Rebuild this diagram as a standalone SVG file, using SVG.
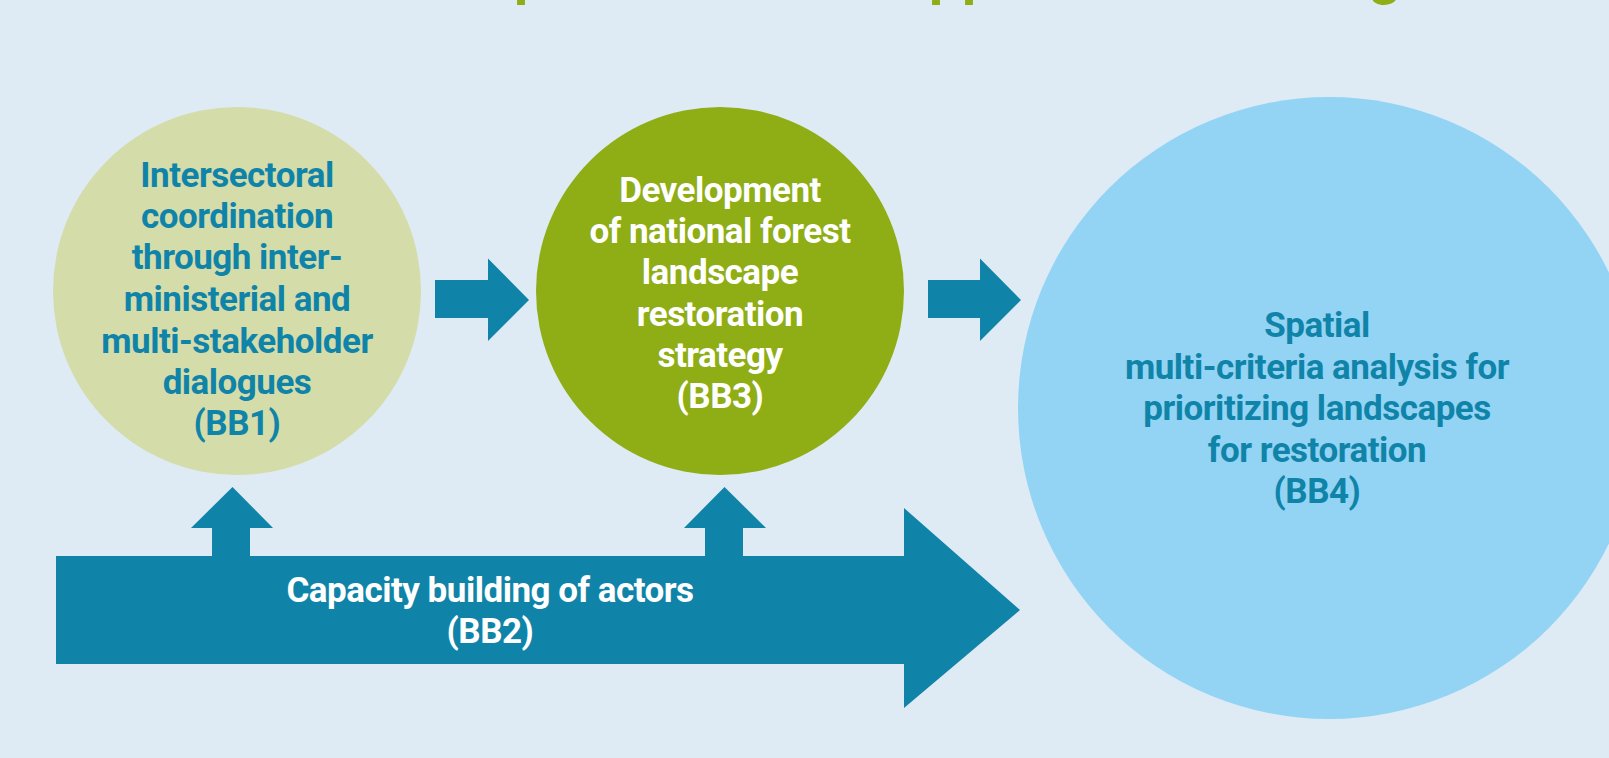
<svg xmlns="http://www.w3.org/2000/svg" width="1609" height="758" viewBox="0 0 1609 758">
<style>
.t{font-family:Roboto,"Liberation Sans",sans-serif;font-weight:700;font-size:35px;letter-spacing:-0.5px;text-anchor:middle}
.teal{fill:#1084a8}
.white{fill:#ffffff}
.arrow{fill:#1084a8}
.title{font-family:Roboto,"Liberation Sans",sans-serif;font-weight:700;font-size:56px;fill:#8fad15}
</style>
<rect width="1609" height="758" fill="#deebf4"/>
<g id="title-fragment">
<text class="title" x="514" y="-6">p</text>
<text class="title" x="929" y="-6">p</text>
<text class="title" x="962" y="-6">p</text>
<text class="title" x="1369" y="-6">g</text>
</g>
<g id="connectors">
<path class="arrow" d="M435,280 H488 V258.5 L529,300 L488,341 V318 H435 Z"/>
<path class="arrow" d="M928,280 H980 V258.5 L1021,300 L980,341 V318 H928 Z"/>
</g>
<g id="bb1">
<circle cx="237" cy="291" r="184" fill="#d4ddaa"/>
<text class="t teal" x="237" y="187">Intersectoral</text>
<text class="t teal" x="237" y="228">coordination</text>
<text class="t teal" x="237" y="269">through inter-</text>
<text class="t teal" x="237" y="311">ministerial and</text>
<text class="t teal" x="237" y="353">multi-stakeholder</text>
<text class="t teal" x="237" y="394">dialogues</text>
<text class="t teal" x="237" y="435">(BB1)</text>
</g>
<g id="bb3">
<circle cx="720" cy="291" r="184" fill="#8fad15"/>
<text class="t white" x="720" y="202">Development</text>
<text class="t white" x="720" y="243">of national forest</text>
<text class="t white" x="720" y="284">landscape</text>
<text class="t white" x="720" y="326">restoration</text>
<text class="t white" x="720" y="367">strategy</text>
<text class="t white" x="720" y="408">(BB3)</text>
</g>
<g id="bb4">
<circle cx="1329" cy="408" r="311" fill="#93d4f5"/>
<text class="t teal" x="1317" y="337">Spatial</text>
<text class="t teal" x="1317" y="379">multi-criteria analysis for</text>
<text class="t teal" x="1317" y="420">prioritizing landscapes</text>
<text class="t teal" x="1317" y="462">for restoration</text>
<text class="t teal" x="1317" y="503">(BB4)</text>
</g>
<g id="bb2">
<path class="arrow" d="M56,556 H212 V528 H191 L232.5,487 L273,528 H250 V556 H705 V528 H684 L724.5,487 L766,528 H743 V556 H904 V508 L1020,610 L904,708 V664 H56 Z"/>
<text class="t white" x="490" y="602">Capacity building of actors</text>
<text class="t white" x="490" y="643">(BB2)</text>
</g>
</svg>
